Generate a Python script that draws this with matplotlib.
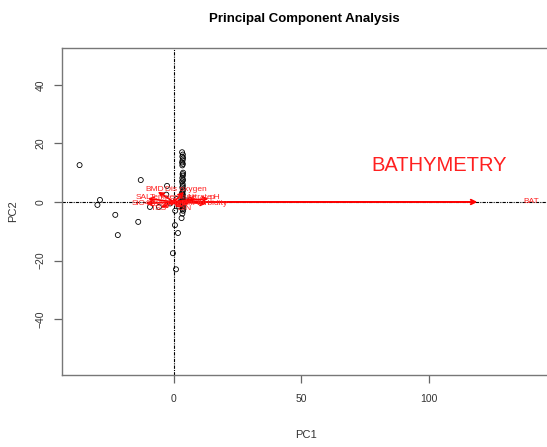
import numpy as np
import matplotlib
matplotlib.use("Agg")
import matplotlib.pyplot as plt

plt.rcParams["font.family"] = ["Liberation Sans", "DejaVu Sans"]

# sample scores (PC1, PC2)
pc1 = [-37, -29, -30, -13, -23, -22, -14, -2.7, -9.4, -5.9, 0.4, 1.6, -0.4, 0.8, 3.0,
       3.2, 3.5, 3.3, 3.6, 3.4, 3.2, 3.5, 3.3, 3.6, 3.4, 3.5, 3.3, 3.6, 3.2, 3.4,
       3.5, 3.3, 3.6, 3.4, 3.2, 3.5, 3.3, 3.4, 3.6, 3.2, 3.5, 3.4, 3.3, 3.5, 3.4,
       3.6, 3.3, 3.4, 1.0, -1.5, 2.0, 5.0, -3.0, 0.5]
pc2 = [12.6, 0.7, -1.0, 7.5, -4.4, -11.3, -6.8, 5.5, -1.7, -1.7, -7.9, -10.6, -17.5, -23.0, -5.5,
       17.0, 16.2, 15.5, 15.0, 14.2, 13.5, 13.0, 12.5, 10.0, 9.5, 9.0, 8.2, 7.5, 7.0, 6.2,
       5.5, 5.0, 4.2, 3.5, 3.0, 2.5, 2.0, 1.5, 1.0, 0.5, 0.0, -0.5, -1.0, -1.5, -2.0,
       -3.0, -4.0, -2.5, 1.0, -0.5, -1.5, 0.5, 2.5, -3.0]

# variable loadings (label positions, scaled to the plot)
var_names = ["BAT", "BMD", "Dis oxygen", "SAL", "Temperature", "Nitrate", "pH",
             "SiO4", "Phosphate", "Chl a", "Turbidity", "TSS", "DIN"]
load_x = [140, -7.4, 4.6, -12, 0, 10, 16, -13, -2, 7, 15, -6, 4]
load_y = [0, 4.1, 4.1, 1.4, 1.4, 1.4, 1.4, -0.6, -0.6, -0.6, -0.6, -2.2, -2.2]
arrow_scale = 0.85

fig = plt.figure(figsize=(5.47, 4.47), dpi=100)
ax = fig.add_axes([0.1133, 0.1611, 0.9506, 0.7315])

ax.axhline(0, color="black", lw=0.8, dashes=(3, 1, 1, 1), zorder=1)
ax.axvline(0, color="black", lw=0.8, dashes=(3, 1, 1, 1), zorder=1)

ax.scatter(pc1, pc2, s=13, facecolors="none", edgecolors="black", linewidths=0.6, zorder=2)

for name, lx, ly in zip(var_names, load_x, load_y):
    lw = 1.4 if name == "BAT" else 1.2
    ax.annotate("", xy=(lx * arrow_scale, ly * arrow_scale), xytext=(0, 0),
                arrowprops=dict(arrowstyle="->", color="red", lw=lw,
                                shrinkA=0, shrinkB=0, mutation_scale=8), zorder=3)
    ax.text(lx, ly, name, color="#ff2020", fontsize=6, ha="center", va="center",
            zorder=4)

ax.text(104, 12.6, "BATHYMETRY", color="#ff2020", fontsize=14.5,
        ha="center", va="center")

ax.set_xlim(-43.9, 160)
ax.set_ylim(-59.1, 52.6)
ax.set_xticks([0, 50, 100])
ax.set_yticks([-40, -20, 0, 20, 40])
for s in ax.spines.values():
    s.set_color("#777777")
    s.set_linewidth(1.0)
ax.tick_params(colors="#666666", labelcolor="#333333", length=6, width=0.9,
               labelsize=7.5)
ax.tick_params(axis="x", pad=8)
ax.tick_params(axis="y", pad=6)
for lab in ax.get_yticklabels():
    lab.set_rotation(90)
    lab.set_va("center")

ax.set_xlabel("PC1", fontsize=8, color="#333333")
ax.set_ylabel("PC2", fontsize=8, color="#333333")
ax.xaxis.set_label_coords(0.469, -0.168)
ax.yaxis.set_label_coords(-0.085, 0.5)

fig.text(0.556, 0.958, "Principal Component Analysis", fontsize=9.5, fontweight="bold",
         ha="center", va="center")

fig.savefig("out.png", dpi=100)
